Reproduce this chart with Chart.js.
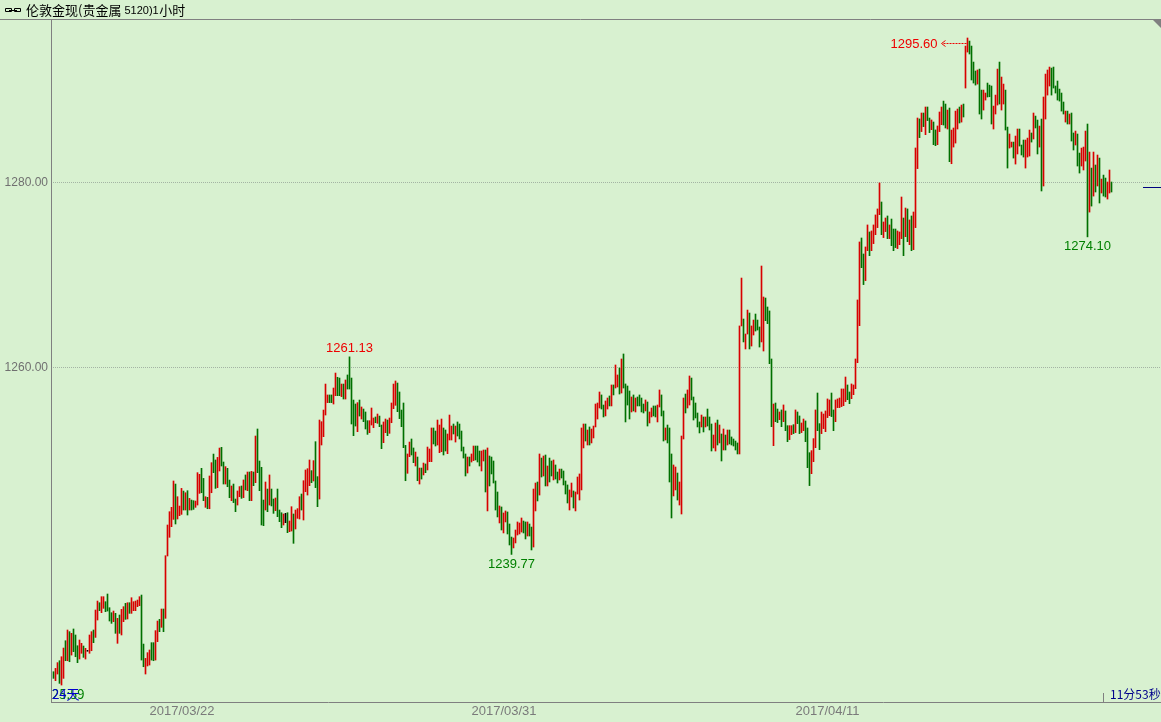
<!DOCTYPE html>
<html>
<head>
<meta charset="utf-8">
<title>伦敦金现 1小时</title>
<script src="https://cdn.jsdelivr.net/npm/chart.js@4.4.0/dist/chart.umd.min.js"></script>
<style>
  html, body { margin: 0; padding: 0; background: #d8f1d0; }
  canvas { display: block; }
</style>
</head>
<body>
<canvas id="myChart" width="1161" height="722"></canvas>
<script>
// hourly bars, high / low
var highs = [
  1227.09, 1227.45, 1228.07, 1228.28, 1228.71, 1229.65, 1230.44, 1231.60, 1231.42, 1231.24,
  1231.71, 1231.06, 1229.90, 1230.52, 1230.16, 1229.87, 1229.62, 1229.40, 1231.06, 1231.42,
  1231.60, 1233.76, 1234.73, 1234.55, 1235.20, 1235.20, 1234.66, 1235.49, 1234.01, 1233.47,
  1233.65, 1233.40, 1232.86, 1233.22, 1233.83, 1234.12, 1234.48, 1234.55, 1234.55, 1235.09,
  1234.66, 1234.73, 1234.84, 1235.20, 1235.38, 1230.08, 1228.53, 1229.15, 1229.44, 1230.23,
  1230.23, 1231.53, 1232.57, 1232.75, 1233.87, 1233.87, 1239.63, 1242.95, 1244.39, 1244.86,
  1247.71, 1247.38, 1246.01, 1245.00, 1246.91, 1246.62, 1246.44, 1246.66, 1245.83, 1245.65,
  1245.58, 1245.54, 1248.61, 1248.43, 1249.08, 1247.99, 1246.01, 1245.94, 1248.25, 1249.69,
  1250.62, 1249.98, 1250.26, 1251.27, 1251.35, 1249.76, 1249.26, 1249.08, 1247.81, 1247.17,
  1247.38, 1245.76, 1246.63, 1247.10, 1247.17, 1247.82, 1248.36, 1248.68, 1248.68, 1248.75,
  1248.68, 1252.57, 1253.33, 1249.87, 1249.19, 1245.65, 1247.60, 1246.84, 1248.36, 1246.84,
  1245.76, 1245.87, 1246.84, 1244.57, 1244.28, 1244.14, 1244.21, 1244.28, 1243.38, 1244.93,
  1244.14, 1244.57, 1244.72, 1246.01, 1246.30, 1247.74, 1248.90, 1249.04, 1249.98, 1248.83,
  1249.91, 1251.96, 1248.18, 1254.30, 1254.12, 1255.38, 1258.19, 1257.01, 1257.01, 1257.01,
  1257.76, 1259.38, 1258.92, 1258.84, 1258.19, 1258.19, 1258.63, 1259.17, 1261.13, 1258.84,
  1256.46, 1256.03, 1256.18, 1256.46, 1255.71, 1255.49, 1255.17, 1254.23, 1254.23, 1255.60,
  1254.52, 1254.63, 1254.95, 1254.73, 1253.76, 1254.09, 1254.41, 1254.30, 1254.52, 1256.14,
  1258.19, 1258.52, 1258.30, 1257.33, 1255.38, 1256.14, 1251.56, 1250.63, 1251.92, 1252.25,
  1251.28, 1250.84, 1250.30, 1249.11, 1249.11, 1249.65, 1249.55, 1251.38, 1251.17, 1253.44,
  1253.44, 1253.11, 1254.30, 1253.76, 1254.41, 1253.44, 1253.22, 1252.79, 1254.84, 1253.65,
  1253.87, 1253.65, 1254.09, 1253.87, 1253.11, 1251.38, 1250.63, 1250.30, 1250.30, 1250.63,
  1251.49, 1251.49, 1251.49, 1250.95, 1250.95, 1251.06, 1251.06, 1251.28, 1250.41, 1250.30,
  1249.87, 1247.71, 1246.52, 1245.01, 1244.90, 1244.25, 1244.47, 1244.36, 1243.06, 1241.65,
  1241.55, 1242.41, 1243.28, 1243.17, 1243.71, 1243.38, 1243.28, 1243.28, 1243.06, 1242.73,
  1246.84, 1247.49, 1247.60, 1250.63, 1250.19, 1250.41, 1250.52, 1249.33, 1250.19, 1249.87,
  1249.98, 1249.44, 1248.68, 1249.00, 1249.00, 1248.79, 1247.71, 1247.28, 1246.74, 1247.49,
  1246.63, 1246.52, 1248.14, 1248.47, 1253.44, 1253.87, 1253.87, 1253.22, 1253.55, 1253.33,
  1253.65, 1256.03, 1256.14, 1257.33, 1257.01, 1255.92, 1256.36, 1256.68, 1256.90, 1258.09,
  1258.09, 1260.25, 1259.17, 1259.92, 1260.90, 1261.44, 1258.20, 1257.98, 1257.44, 1256.79,
  1257.01, 1256.68, 1256.79, 1257.01, 1256.68, 1256.03, 1256.47, 1256.25, 1255.17, 1255.60,
  1255.82, 1255.82, 1255.92, 1257.55, 1257.01, 1255.28, 1253.44, 1253.76, 1253.44, 1250.63,
  1249.44, 1249.22, 1248.57, 1247.60, 1252.57, 1256.68, 1257.11, 1257.55, 1259.06, 1258.84,
  1256.79, 1256.14, 1255.06, 1254.09, 1254.84, 1254.63, 1254.63, 1255.49, 1254.63, 1253.87,
  1252.68, 1253.98, 1254.30, 1253.76, 1252.79, 1253.33, 1252.68, 1253.22, 1253.22, 1252.47,
  1252.25, 1252.03, 1251.82, 1264.47, 1269.65, 1265.22, 1263.60, 1266.19, 1265.87, 1264.47,
  1265.11, 1265.76, 1265.11, 1264.36, 1270.95, 1267.60, 1267.49, 1266.52, 1266.09, 1260.90,
  1256.03, 1256.14, 1255.49, 1255.17, 1255.39, 1255.93, 1255.28, 1253.69, 1253.69, 1253.69,
  1253.80, 1255.39, 1255.17, 1254.74, 1253.98, 1254.41, 1254.20, 1253.44, 1250.77, 1250.99,
  1252.29, 1255.39, 1257.22, 1253.91, 1255.17, 1254.95, 1255.28, 1256.58, 1256.47, 1257.22,
  1255.39, 1256.47, 1256.58, 1256.68, 1257.66, 1257.66, 1258.95, 1258.09, 1257.33, 1258.20,
  1258.09, 1260.90, 1267.28, 1273.55, 1273.98, 1272.25, 1273.01, 1275.39, 1274.63, 1274.74,
  1275.39, 1276.47, 1277.12, 1279.93, 1277.87, 1275.71, 1276.14, 1276.36, 1275.39, 1276.03,
  1274.95, 1274.95, 1274.74, 1274.63, 1278.41, 1276.14, 1277.22, 1277.12, 1275.93, 1276.36,
  1276.79, 1283.71, 1286.95, 1286.85, 1287.49, 1287.49, 1288.14, 1288.14, 1286.95, 1286.74,
  1286.52, 1285.66, 1286.09, 1287.60, 1288.14, 1288.78, 1288.46, 1287.81, 1288.03, 1285.65,
  1285.87, 1287.70, 1287.92, 1288.14, 1288.35, 1288.46, 1294.73, 1295.60, 1295.27, 1294.73,
  1293.00, 1292.03, 1292.14, 1292.24, 1289.97, 1289.97, 1289.65, 1290.73, 1290.51, 1290.41,
  1288.24, 1289.43, 1292.24, 1293.00, 1291.38, 1290.62, 1289.97, 1285.97, 1285.22, 1284.35,
  1284.35, 1285.00, 1285.76, 1285.76, 1284.03, 1284.57, 1284.57, 1284.78, 1285.65, 1285.33,
  1287.49, 1287.16, 1286.73, 1286.08, 1286.84, 1289.22, 1291.70, 1292.14, 1292.46, 1292.35,
  1292.46, 1290.41, 1290.95, 1290.08, 1289.65, 1288.68, 1287.70, 1287.70, 1287.38, 1287.49,
  1285.33, 1285.54, 1285.22, 1283.16, 1283.70, 1283.81, 1285.54, 1286.30, 1283.27, 1281.54,
  1283.27, 1281.87, 1282.95, 1282.62, 1280.35, 1280.78, 1280.46, 1280.03, 1281.33, 1280.03
];

var lows = [
  1226.37, 1226.12, 1226.84, 1225.83, 1225.65, 1226.37, 1228.28, 1228.28, 1228.17, 1228.89,
  1229.26, 1228.71, 1228.07, 1228.46, 1229.08, 1228.64, 1228.46, 1229.30, 1229.08, 1229.36,
  1230.23, 1230.80, 1232.68, 1233.69, 1233.47, 1233.94, 1233.58, 1233.65, 1232.57, 1232.32,
  1232.50, 1231.24, 1230.16, 1231.24, 1231.06, 1232.50, 1232.75, 1232.79, 1233.40, 1233.40,
  1233.69, 1233.69, 1234.12, 1234.23, 1228.35, 1227.63, 1226.84, 1227.71, 1227.81, 1228.35,
  1228.28, 1228.35, 1230.34, 1231.42, 1231.89, 1231.42, 1232.86, 1239.60, 1241.62, 1242.77,
  1243.56, 1243.06, 1243.60, 1243.96, 1244.10, 1244.57, 1244.57, 1244.03, 1244.57, 1244.57,
  1244.64, 1244.86, 1245.11, 1246.37, 1246.44, 1245.58, 1244.86, 1244.71, 1244.71, 1246.44,
  1248.61, 1246.91, 1246.99, 1248.79, 1249.33, 1247.38, 1247.38, 1247.09, 1245.90, 1245.58,
  1245.37, 1244.39, 1245.11, 1246.01, 1245.83, 1245.91, 1246.74, 1246.66, 1245.58, 1245.58,
  1247.20, 1247.53, 1248.61, 1246.66, 1242.95, 1242.88, 1244.57, 1244.39, 1245.11, 1245.01,
  1244.21, 1244.50, 1243.85, 1243.31, 1242.66, 1242.95, 1243.20, 1242.12, 1242.23, 1242.30,
  1240.97, 1242.52, 1243.67, 1243.60, 1244.57, 1243.49, 1246.55, 1246.19, 1247.20, 1247.53,
  1247.71, 1246.99, 1244.93, 1245.76, 1251.60, 1252.50, 1254.84, 1256.18, 1256.18, 1256.18,
  1256.03, 1256.93, 1256.93, 1256.93, 1256.83, 1256.57, 1256.57, 1257.65, 1257.65, 1253.87,
  1252.61, 1253.65, 1253.04, 1254.73, 1254.41, 1254.12, 1253.33, 1252.75, 1252.93, 1253.76,
  1253.47, 1254.01, 1253.94, 1253.58, 1251.20, 1251.85, 1252.93, 1252.61, 1252.86, 1254.01,
  1255.53, 1255.89, 1255.20, 1254.45, 1253.58, 1251.31, 1247.74, 1248.54, 1250.34, 1250.52,
  1249.69, 1249.33, 1247.74, 1247.38, 1247.92, 1248.36, 1248.61, 1248.90, 1249.80, 1249.80,
  1251.71, 1251.49, 1251.60, 1250.77, 1250.88, 1250.52, 1250.95, 1250.66, 1252.14, 1252.14,
  1252.79, 1251.92, 1252.57, 1252.25, 1250.95, 1250.19, 1248.25, 1248.57, 1249.33, 1249.76,
  1249.91, 1249.98, 1249.76, 1249.33, 1248.79, 1249.87, 1246.52, 1244.47, 1247.17, 1248.47,
  1247.49, 1244.57, 1243.82, 1243.17, 1242.41, 1242.09, 1243.28, 1241.98, 1240.79, 1239.77,
  1240.47, 1241.01, 1241.87, 1241.98, 1242.19, 1242.09, 1241.44, 1241.76, 1241.76, 1240.25,
  1240.57, 1244.47, 1245.55, 1246.19, 1248.14, 1248.25, 1247.17, 1247.17, 1247.60, 1248.25,
  1247.82, 1247.92, 1247.49, 1247.82, 1248.03, 1247.28, 1246.30, 1245.33, 1244.57, 1245.98,
  1244.79, 1244.47, 1246.30, 1245.65, 1246.74, 1251.28, 1252.03, 1251.60, 1251.60, 1251.82,
  1252.36, 1253.55, 1254.41, 1255.60, 1255.49, 1254.63, 1254.74, 1255.49, 1255.82, 1255.82,
  1257.01, 1257.76, 1257.87, 1257.11, 1257.22, 1257.76, 1254.09, 1255.92, 1254.41, 1255.17,
  1255.28, 1255.17, 1255.82, 1255.82, 1255.17, 1255.06, 1255.28, 1253.65, 1253.98, 1254.63,
  1254.74, 1254.63, 1254.09, 1255.71, 1254.74, 1252.03, 1252.14, 1251.82, 1247.60, 1243.71,
  1246.09, 1246.74, 1245.65, 1245.11, 1244.14, 1252.25, 1255.06, 1255.60, 1255.92, 1256.47,
  1254.30, 1254.52, 1253.55, 1252.90, 1253.55, 1253.01, 1253.55, 1253.65, 1253.22, 1250.95,
  1251.28, 1250.95, 1251.60, 1251.82, 1249.87, 1251.06, 1251.06, 1251.60, 1251.71, 1251.60,
  1251.49, 1251.06, 1250.63, 1250.63, 1264.47, 1262.74, 1261.98, 1263.60, 1261.98, 1262.30,
  1263.49, 1263.92, 1264.03, 1262.19, 1262.74, 1261.76, 1265.04, 1264.72, 1260.39, 1253.58,
  1251.53, 1254.12, 1254.02, 1254.34, 1253.58, 1254.12, 1253.15, 1251.96, 1252.18, 1252.72,
  1252.83, 1252.94, 1253.91, 1252.83, 1252.94, 1253.15, 1251.96, 1249.15, 1247.21, 1248.50,
  1249.80, 1251.31, 1253.15, 1251.10, 1252.83, 1253.37, 1253.04, 1254.56, 1254.77, 1254.67,
  1253.15, 1254.12, 1255.64, 1255.64, 1255.75, 1255.85, 1256.29, 1256.50, 1256.07, 1256.61,
  1257.04, 1257.69, 1260.50, 1264.50, 1270.77, 1268.94, 1269.37, 1272.61, 1272.07, 1272.61,
  1273.37, 1274.34, 1275.10, 1276.50, 1274.34, 1274.02, 1274.67, 1273.91, 1273.91, 1273.15,
  1272.61, 1272.94, 1272.83, 1273.26, 1273.91, 1272.07, 1274.12, 1273.58, 1273.26, 1272.61,
  1272.72, 1275.10, 1281.48, 1284.83, 1285.48, 1286.02, 1285.15, 1286.67, 1285.37, 1285.69,
  1284.07, 1283.96, 1284.07, 1285.48, 1286.23, 1286.19, 1285.87, 1285.76, 1282.23, 1282.01,
  1283.81, 1284.24, 1285.76, 1286.41, 1286.51, 1287.06, 1290.19, 1294.08, 1293.87, 1291.06,
  1290.73, 1290.51, 1290.62, 1287.38, 1286.84, 1287.81, 1288.89, 1289.22, 1289.25, 1286.30,
  1285.76, 1287.38, 1288.35, 1288.46, 1287.81, 1288.46, 1285.65, 1281.54, 1283.70, 1283.81,
  1282.62, 1281.97, 1283.06, 1283.92, 1282.95, 1282.73, 1281.54, 1282.73, 1282.84, 1284.35,
  1284.68, 1285.87, 1283.06, 1283.81, 1279.06, 1279.60, 1286.84, 1289.43, 1290.41, 1289.43,
  1290.19, 1289.65, 1288.89, 1288.78, 1287.70, 1287.38, 1286.51, 1286.30, 1286.30, 1284.46,
  1283.49, 1284.03, 1281.76, 1281.00, 1281.76, 1281.33, 1282.30, 1274.10, 1276.78, 1277.43,
  1278.51, 1278.95, 1279.60, 1277.76, 1278.84, 1278.51, 1278.41, 1278.19, 1278.84, 1278.95
];

// r = up bar, g = down bar, k = unchanged
var barDir = [
  "grrgrrgrgr", "gggrrgrkrr", "grrgrrgggg", "rgrgrrgrgr", "rrrrggrrrg",
  "grrgrgrrrr", "rgrrrgrgrg", "grrrggrgrr", "ggrrggrggr", "ggrrgrgrgr",
  "grggggrgrg", "grgggrkgrr", "grrrgrrrrg", "rggrrrrrgg", "rrggrgrggg",
  "ggrgrgggrr", "rgrggrrgrr", "rrgggggrrg", "grgrgrgrrr", "ggrrrggrrr",
  "grgggggrgr", "rgggrrgrgg", "gggrgrrggg", "rrrrrggrgg", "rrgrgrgrgg",
  "rggrggggrr", "grrrrrgrgr", "rrrrggrrgr", "grrgrggggr", "grggggrgrr",
  "ggrrggrggg", "rrgrrrgrrg", "ggggrgrggg", "rrgrgrgrgg", "gggrrgrrgr",
  "rgggrrgggg", "rggrgrggrr", "grggrrgggr", "rrggrrrrrg", "grrrrrrggr",
  "rrrrggrrgr", "rrrrgrrgrg", "ggrrrgrgrg", "rrrgrgrggr", "ggrrrggrgr",
  "rrrgrgrrgg", "ggrggrrggg", "rrrgrrggrr", "grrgggrrrg", "rggrgrrrrg",
  "ggggggrgrg", "grggrrrgrg", "rgrgrggrrg"
].join("");

var dateTicks = [48, 209, 371];
var dateLabels = ["2017/03/22", "2017/03/31", "2017/04/11"];
var priceTicks = [1260, 1280];
var lastPrice = 1279.49;

// marked highs / lows
var markIdx = [148, 229, 457, 517];
var markSide = ["high", "low", "high", "low"];
var markArrow = [false, false, true, false];

var colorOf = { r: "#d80000", g: "#007000", k: "#000000" };

var points = [];
for (var i = 0; i < highs.length; i++) {
  points.push({ x: i, y: [lows[i], highs[i]] });
}

var decor = {
  id: "decor",
  afterDraw: function(chart) {
    var ctx = chart.ctx;
    var xs = chart.scales.x;
    var ys = chart.scales.y;
    var area = chart.chartArea;
    var W = chart.width;
    ctx.save();

    // frame lines
    ctx.strokeStyle = "#808080";
    ctx.lineWidth = 1;
    ctx.beginPath();
    ctx.moveTo(0, 19.5); ctx.lineTo(W, 19.5);
    ctx.moveTo(area.left + 0.5, 19); ctx.lineTo(area.left + 0.5, area.bottom + 1);
    ctx.moveTo(area.left, area.bottom + 0.5); ctx.lineTo(W, area.bottom + 0.5);
    ctx.moveTo(1103.5, 693); ctx.lineTo(1103.5, area.bottom);
    ctx.stroke();

    // corner triangle
    ctx.fillStyle = "#808080";
    ctx.beginPath();
    ctx.moveTo(W - 8, 20); ctx.lineTo(W, 20); ctx.lineTo(W, 28);
    ctx.closePath();
    ctx.fill();

    // title with link icon
    ctx.strokeStyle = "#000000";
    ctx.beginPath();
    ctx.rect(5.5, 8.5, 6, 3);
    ctx.rect(14.5, 8.5, 6, 3);
    ctx.moveTo(9, 10.5); ctx.lineTo(17, 10.5);
    ctx.stroke();
    ctx.fillStyle = "#000000";
    ctx.textBaseline = "middle";
    ctx.textAlign = "left";
    var tx = 26;
    ctx.font = '13px "Noto Sans CJK SC"';
    ctx.fillText("伦敦金现(贵金属", tx, 10);
    tx += ctx.measureText("伦敦金现(贵金属").width;
    ctx.font = '11px "Liberation Sans"';
    ctx.fillText(" 5120)1", tx, 10.5);
    tx += ctx.measureText(" 5120)1").width + 0.5;
    ctx.font = '13px "Noto Sans CJK SC"';
    ctx.fillText("小时", tx, 10);

    // high / low marks
    ctx.font = '13px "Liberation Sans"';
    for (var n = 0; n < markIdx.length; n++) {
      var idx = markIdx[n];
      var px = xs.getPixelForValue(idx);
      var isHigh = markSide[n] === "high";
      var val = isHigh ? highs[idx] : lows[idx];
      var py = ys.getPixelForValue(val);
      ctx.fillStyle = isHigh ? "#ee0000" : "#008000";
      if (markArrow[n]) {
        var ay = Math.round(py + 5) + 0.5;
        ctx.strokeStyle = "#ee0000";
        ctx.setLineDash([2, 1]);
        ctx.beginPath();
        ctx.moveTo(px - 1, ay); ctx.lineTo(px - 25, ay);
        ctx.stroke();
        ctx.setLineDash([]);
        ctx.beginPath();
        ctx.moveTo(px - 22, ay - 3); ctx.lineTo(px - 26, ay); ctx.lineTo(px - 22, ay + 3);
        ctx.stroke();
        ctx.textAlign = "right";
        ctx.fillText(val.toFixed(2), px - 30, py + 6);
      } else {
        ctx.textAlign = "center";
        ctx.fillText(val.toFixed(2), px, isHigh ? py - 8 : py + 10);
      }
    }

    // last price marker on the right
    var ly = Math.round(ys.getPixelForValue(lastPrice)) + 0.5;
    ctx.strokeStyle = "#000080";
    ctx.beginPath();
    ctx.moveTo(W - 18, ly); ctx.lineTo(W, ly);
    ctx.stroke();

    // bottom status texts
    ctx.textAlign = "left";
    ctx.font = '13px "Noto Sans CJK SC"';
    ctx.fillStyle = "#008000";
    ctx.fillText("25:59", area.left + 1, 694);
    ctx.fillStyle = "#0000cc";
    ctx.fillText("24天", area.left + 1, 694);
    ctx.font = '12px "Noto Sans CJK SC"';
    ctx.fillStyle = "#00008b";
    ctx.fillText("11分53秒", 1110, 694);

    ctx.restore();
  }
};

var ctx = document.getElementById("myChart").getContext("2d");
var myChart = new Chart(ctx, {
  type: "bar",
  data: {
    datasets: [
      {
        data: points,
        barThickness: 1,
        borderWidth: 0,
        backgroundColor: function(c) {
          return colorOf[barDir[c.dataIndex]] || "#007000";
        }
      }
    ]
  },
  options: {
    responsive: false,
    animation: false,
    layout: { padding: { top: 20, left: 0, right: 0, bottom: 0 } },
    plugins: {
      legend: { display: false },
      tooltip: { enabled: false }
    },
    scales: {
      x: {
        type: "linear",
        min: -1.25,
        max: 553.75,
        offset: false,
        grid: { display: false, drawTicks: false },
        border: { display: false },
        afterBuildTicks: function(s) {
          s.ticks = dateTicks.map(function(v) { return { value: v }; });
        },
        afterFit: function(s) { s.height = 20; },
        ticks: {
          autoSkip: false,
          maxRotation: 0,
          align: "start",
          padding: 2,
          color: "#7a7a7a",
          font: { family: "Liberation Sans", size: 13 },
          callback: function(v) {
            var k = dateTicks.indexOf(v);
            return k >= 0 ? dateLabels[k] : "";
          }
        }
      },
      y: {
        min: 1223.816,
        max: 1297.546,
        afterBuildTicks: function(s) {
          s.ticks = priceTicks.map(function(v) { return { value: v }; });
        },
        afterFit: function(s) { s.width = 51; },
        grid: { color: "#a4b4a4", drawTicks: false, lineWidth: 1 },
        border: { display: false, dash: [1, 1] },
        ticks: {
          padding: 3,
          color: "#707070",
          font: { family: "Liberation Sans", size: 12 },
          callback: function(v) { return v.toFixed(2); }
        }
      }
    }
  },
  plugins: [decor]
});
</script>
</body>
</html>
